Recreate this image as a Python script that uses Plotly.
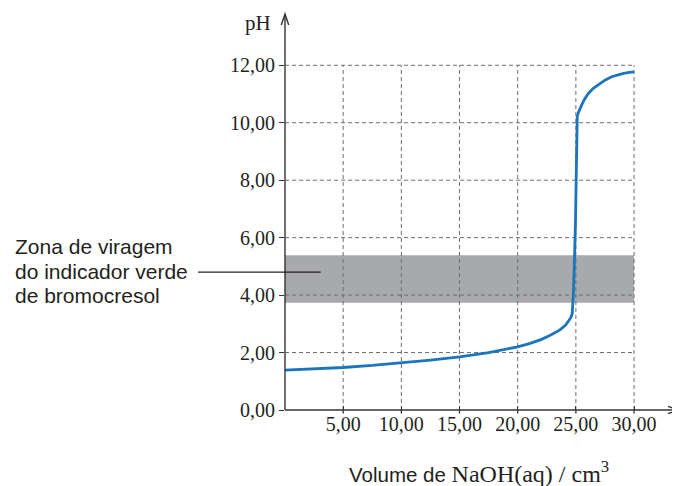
import plotly.graph_objects as go

# ---- data ----
volume = [0, 2.5, 5, 7.5, 10, 12.5, 15, 17.5, 20, 21, 22, 22.8, 23.6,
          24.1, 24.43, 24.6, 24.69, 24.74, 24.78, 24.85, 24.92, 24.97,
          25.01, 25.04, 25.07, 25.12, 25.2, 25.3, 25.5, 25.75, 26.07,
          26.5, 27.07, 27.5, 28.08, 28.6, 29.1, 29.6, 30]
ph = [1.39, 1.43, 1.48, 1.55, 1.64, 1.74, 1.85, 2.0, 2.2, 2.31, 2.45, 2.6, 2.78,
      2.95, 3.13, 3.25, 3.37, 3.6, 4.03, 4.8, 5.57, 6.6,
      7.66, 9.0, 10.02, 10.22, 10.34, 10.44, 10.62, 10.82, 11.02,
      11.2, 11.37, 11.48, 11.6, 11.67, 11.72, 11.75, 11.77]

x_ticks = [5, 10, 15, 20, 25, 30]
x_tick_labels = ["5,00", "10,00", "15,00", "20,00", "25,00", "30,00"]
y_ticks = [0, 2, 4, 6, 8, 10, 12]
y_tick_labels = ["0,00", "2,00", "4,00", "6,00", "8,00", "10,00", "12,00"]

zone_low = 3.73
zone_high = 5.39
zone_label = ["Zona de viragem", "do indicador verde", "de bromocresol"]

# ---- layout geometry (page has an 8px body margin) ----
OFF = 8
W, H = 680 - OFF, 486 - OFF
ML, MR, MT, MB = 285 - OFF, 0, 13 - OFF, 76
PW, PH = W - ML - MR, H - MT - MB
X_MAX = 33.95
Y_MAX = 13.82

def px_x(p):   # page pixel -> paper x
    return (p - OFF - ML) / PW

def px_y(p):   # page pixel -> paper y
    return (H - MB - (p - OFF)) / PH

TEXT = "#231f20"
AXIS = "#333333"
GRID = "#6d6e71"
BAND = "#a7a9ac"
BLUE = "#1b75bc"
SERIF = "Liberation Serif"
SANS = "Liberation Sans"

fig = go.Figure()
fig.add_trace(go.Scatter(x=volume, y=ph, mode="lines",
                         line=dict(color=BLUE, width=2.8),
                         hoverinfo="skip", showlegend=False))

shapes = []
# indicator zone band
shapes.append(dict(type="rect", xref="x", yref="y", x0=0, x1=x_ticks[-1],
                   y0=zone_low, y1=zone_high, fillcolor=BAND,
                   line=dict(width=0), layer="below"))
# dashed grid (limited to data extent)
for xv in x_ticks:
    shapes.append(dict(type="line", xref="x", yref="y", x0=xv, x1=xv,
                       y0=0, y1=y_ticks[-1], layer="below",
                       line=dict(color=GRID, width=1, dash="4px,3px")))
for yv in y_ticks[1:]:
    shapes.append(dict(type="line", xref="x", yref="y", x0=0, x1=x_ticks[-1],
                       y0=yv, y1=yv, layer="below",
                       line=dict(color=GRID, width=1, dash="4px,3px")))

# axis lines with open arrowheads (paper coords so they are not clipped)
ax_line = dict(color=AXIS, width=1.4)
shapes.append(dict(type="line", xref="paper", yref="paper",
                   x0=0, x1=0, y0=0, y1=px_y(14.5), line=ax_line))
shapes.append(dict(type="path", xref="paper", yref="paper",
                   path="M{:.5f},{:.5f} L{:.5f},{:.5f} L{:.5f},{:.5f}".format(
                       px_x(281.3), px_y(25), 0, px_y(14), px_x(288.7), px_y(25)),
                   line=ax_line))
shapes.append(dict(type="line", xref="paper", yref="paper",
                   x0=0, x1=px_x(678.5), y0=0, y1=0, line=ax_line))
shapes.append(dict(type="path", xref="paper", yref="paper",
                   path="M{:.5f},{:.5f} L{:.5f},{:.5f} L{:.5f},{:.5f}".format(
                       px_x(668), px_y(406.3), px_x(679), 0, px_x(668), px_y(413.7)),
                   line=ax_line))
# short tick marks below the x axis (ticks cross the axis in the reference)
for xv in x_ticks:
    shapes.append(dict(type="line", xref="x", yref="paper", x0=xv, x1=xv,
                       y0=0, y1=px_y(413.5), line=dict(color=AXIS, width=1.3)))

# leader line
shapes.append(dict(type="line", xref="paper", yref="paper",
                   x0=px_x(198), x1=3.07 / X_MAX,
                   y0=4.8 / Y_MAX, y1=4.8 / Y_MAX,
                   line=dict(color=TEXT, width=1.2)))

annotations = []
# pH label
annotations.append(dict(x=px_x(257.5), y=px_y(23), xref="paper", yref="paper",
                        text="pH", showarrow=False, xanchor="center",
                        yanchor="middle",
                        font=dict(family=SERIF, size=21, color=TEXT)))
# x axis title
annotations.append(dict(
    x=px_x(478.5), y=px_y(472), xref="paper", yref="paper",
    text=('<span style="font-family:Liberation Sans;font-size:20.5px">'
          'Volume de </span>NaOH(aq) / cm<sup>3</sup>'),
    showarrow=False, xanchor="center", yanchor="middle",
    font=dict(family=SERIF, size=24, color=TEXT)))
# zone label
for line_text, cy in zip(zone_label, [246.5, 271.5, 295.5]):
    annotations.append(dict(x=px_x(13), y=px_y(cy), xref="paper", yref="paper",
                            text=line_text, showarrow=False, xanchor="left",
                            yanchor="middle",
                            font=dict(family=SANS, size=21, color=TEXT)))

fig.update_layout(
    width=W, height=H, autosize=False,
    margin=dict(l=ML, r=MR, t=MT, b=MB, pad=0),
    paper_bgcolor="white", plot_bgcolor="white",
    shapes=shapes, annotations=annotations, showlegend=False,
    xaxis=dict(range=[0, X_MAX], showgrid=False, zeroline=False,
               showline=False, tickmode="array", tickvals=x_ticks,
               ticktext=x_tick_labels, ticks="inside", ticklen=4,
               tickwidth=1.3, tickcolor=AXIS,
               tickfont=dict(family=SERIF, size=20, color=TEXT),
               fixedrange=True),
    yaxis=dict(range=[0, Y_MAX], showgrid=False, zeroline=False,
               showline=False, tickmode="array", tickvals=y_ticks,
               ticktext=y_tick_labels, ticks="outside", ticklen=5,
               tickwidth=1.3, tickcolor=AXIS,
               tickfont=dict(family=SERIF, size=20, color=TEXT),
               fixedrange=True),
)

fig.write_html("out.html")
